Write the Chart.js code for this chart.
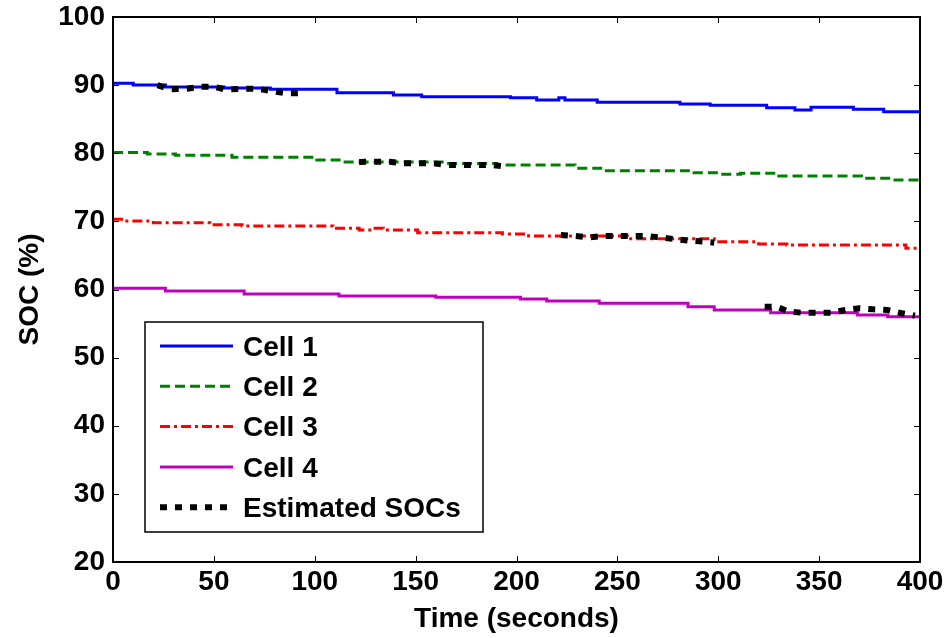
<!DOCTYPE html>
<html>
<head>
<meta charset="utf-8">
<script src="https://cdn.jsdelivr.net/npm/chart.js@4.4.0/dist/chart.umd.min.js"></script>
<style>
  body { margin: 0; background: #fff; }
</style>
</head>
<body>
<canvas id="soc-chart" width="949" height="638"></canvas>
<script>
// step points: time (s) where the SOC changes, and the new value (%)
const cell1T = [0, 10, 26, 55, 78, 111, 139, 153, 197, 210, 221, 224, 240, 281, 296, 324, 338, 346, 367, 382, 400];
const cell1V = [90.27, 90.02, 89.72, 89.58, 89.39, 88.89, 88.55, 88.30, 88.15, 87.83, 88.16, 87.83, 87.48, 87.23, 87.04, 86.69, 86.35, 86.75, 86.45, 86.10, 86.10];

const cell2T = [0, 17, 31, 59, 101, 114, 165, 190, 229, 243, 288, 301, 311, 330, 371, 386, 400];
const cell2V = [80.10, 79.89, 79.70, 79.41, 79.01, 78.72, 78.50, 78.28, 77.79, 77.44, 77.14, 76.91, 77.06, 76.66, 76.32, 76.07, 76.07];

const cell3T = [0, 6, 20, 48, 64, 109, 122, 129, 134, 151, 193, 206, 255, 298, 320, 334, 393, 400];
const cell3V = [70.30, 70.06, 69.81, 69.51, 69.32, 68.98, 68.73, 68.98, 68.73, 68.34, 68.15, 67.85, 67.45, 67.02, 66.68, 66.53, 66.05, 66.05];

const cell4T = [0, 26, 65, 112, 160, 202, 215, 241, 285, 298, 326, 369, 384, 400];
const cell4V = [60.20, 59.78, 59.34, 59.05, 58.85, 58.60, 58.30, 58.00, 57.48, 56.99, 56.60, 56.26, 56.00, 56.00];

// estimated SOC windows
const est1T = [22, 28, 36, 43, 50, 56, 65, 72, 79, 86, 94];
const est1V = [90.0, 89.4, 89.45, 89.75, 89.75, 89.35, 89.45, 89.45, 89.1, 88.8, 88.8];
const est2T = [122, 130, 137, 144, 151, 159, 165, 173, 180, 188, 195];
const est2V = [78.72, 78.76, 78.76, 78.52, 78.52, 78.52, 78.28, 78.28, 78.28, 78.28, 78.03];
const est3T = [222, 229, 236, 243, 250, 256, 264, 271, 279, 286, 293, 298];
const est3V = [68.0, 67.85, 67.66, 67.85, 67.85, 67.85, 67.85, 67.66, 67.37, 67.16, 67.02, 66.87];
const est4T = [323, 329, 335, 341, 348, 356, 363, 370, 377, 384, 391, 397.5];
const est4V = [57.48, 57.48, 56.74, 56.60, 56.60, 56.60, 56.99, 57.24, 57.09, 56.99, 56.51, 56.16];

const cellNames = ['Cell 1', 'Cell 2', 'Cell 3', 'Cell 4'];
const estName = 'Estimated SOCs';
const xTicks = [0, 50, 100, 150, 200, 250, 300, 350, 400];
const yTicks = [20, 30, 40, 50, 60, 70, 80, 90, 100];

const FAMILY = '"Liberation Sans", Arial, sans-serif';
const FSIZE = 28;

function pts(t, v) {
  return t.map((x, i) => ({ x: x, y: v[i] }));
}

const cellStyles = [
  { borderColor: '#0000ff', borderDash: [] },
  { borderColor: '#008000', borderDash: [10, 5] },
  { borderColor: '#ff0000', borderDash: [10, 4, 3, 4] },
  { borderColor: '#bf00bf', borderDash: [] }
];
const estStyle = { borderColor: '#000000', borderDash: [7, 8], borderWidth: 6 };

const cellData = [pts(cell1T, cell1V), pts(cell2T, cell2V), pts(cell3T, cell3V), pts(cell4T, cell4V)];
const estData = [pts(est1T, est1V), pts(est2T, est2V), pts(est3T, est3V), pts(est4T, est4V)];

let datasets = [];
cellData.forEach((d, i) => {
  datasets.push({
    label: cellNames[i],
    data: d,
    borderColor: cellStyles[i].borderColor,
    borderDash: cellStyles[i].borderDash,
    borderWidth: 3,
    stepped: true,
    pointRadius: 0,
    fill: false,
    order: 1
  });
});
estData.forEach(d => {
  datasets.push({
    label: estName,
    data: d,
    borderColor: estStyle.borderColor,
    borderDash: estStyle.borderDash,
    borderWidth: estStyle.borderWidth,
    borderCapStyle: 'butt',
    pointRadius: 0,
    fill: false,
    order: 0
  });
});

// frame, inward ticks and the boxed legend (matlab look)
const matlabFrame = {
  id: 'matlabFrame',
  afterDatasetsDraw(chart) {
    const { ctx, chartArea: a, scales } = chart;
    const x = scales.x, y = scales.y;
    ctx.save();
    ctx.strokeStyle = '#000';
    ctx.lineWidth = 1;
    ctx.beginPath();
    xTicks.forEach(v => {
      const px = Math.round(x.getPixelForValue(v)) + 0.5;
      ctx.moveTo(px, a.bottom); ctx.lineTo(px, a.bottom - 6);
      ctx.moveTo(px, a.top); ctx.lineTo(px, a.top + 6);
    });
    yTicks.forEach(v => {
      const py = Math.round(y.getPixelForValue(v)) + 0.5;
      ctx.moveTo(a.left, py); ctx.lineTo(a.left + 6, py);
      ctx.moveTo(a.right, py); ctx.lineTo(a.right - 6, py);
    });
    ctx.stroke();
    ctx.lineWidth = 2;
    ctx.strokeRect(a.left, a.top, a.right - a.left, a.bottom - a.top);

    // legend box
    const bx = 145, by = 322, bw = 338, bh = 210;
    ctx.fillStyle = '#fff';
    ctx.fillRect(bx, by, bw, bh);
    ctx.lineWidth = 1.5;
    ctx.strokeRect(bx, by, bw, bh);

    const entries = cellNames.map((n, i) => ({ name: n, color: cellStyles[i].borderColor, dash: cellStyles[i].borderDash, width: 3 }));
    entries.push({ name: estName, color: estStyle.borderColor, dash: estStyle.borderDash, width: estStyle.borderWidth });
    entries.forEach((e, i) => {
      const ry = 346 + i * 40.3;
      ctx.beginPath();
      ctx.strokeStyle = e.color;
      ctx.lineWidth = e.width;
      ctx.lineCap = 'butt';
      ctx.setLineDash(e.dash);
      ctx.moveTo(160, ry);
      ctx.lineTo(233, ry);
      ctx.stroke();
      ctx.setLineDash([]);
      ctx.fillStyle = '#000';
      ctx.font = 'bold ' + FSIZE + 'px ' + FAMILY;
      ctx.textAlign = 'left';
      ctx.textBaseline = 'middle';
      ctx.fillText(e.name, 243, ry + 2);
    });
    ctx.restore();
  }
};

const socChart = new Chart(document.getElementById('soc-chart').getContext('2d'), {
  type: 'line',
  data: { datasets: datasets },
  options: {
    responsive: false,
    animation: false,
    layout: { padding: { top: 17, right: 29, left: 0, bottom: 0 } },
    plugins: {
      legend: { display: false },
      tooltip: { enabled: false }
    },
    scales: {
      x: {
        type: 'linear',
        min: 0,
        max: 400,
        afterFit: s => { s.height = 76; s.paddingLeft = 0; s.paddingRight = 0; },
        afterBuildTicks: s => { s.ticks = xTicks.map(v => ({ value: v })); },
        grid: { display: false, drawTicks: false },
        border: { display: false },
        ticks: {
          autoSkip: false,
          maxRotation: 0,
          padding: 3,
          color: '#000',
          font: { family: FAMILY, size: FSIZE, weight: 'bold' }
        },
        title: {
          display: true,
          text: 'Time (seconds)',
          color: '#000',
          padding: { top: 0, bottom: 2 },
          font: { family: FAMILY, size: FSIZE, weight: 'bold' }
        }
      },
      y: {
        min: 20,
        max: 100,
        afterFit: s => { s.width = 113; s.paddingTop = 0; s.paddingBottom = 0; },
        afterBuildTicks: s => { s.ticks = yTicks.map(v => ({ value: v })); },
        grid: { display: false, drawTicks: false },
        border: { display: false },
        ticks: {
          autoSkip: false,
          padding: 8,
          color: '#000',
          font: { family: FAMILY, size: FSIZE, weight: 'bold' }
        },
        title: {
          display: true,
          text: 'SOC (%)',
          color: '#000',
          padding: { top: 13, bottom: 0 },
          font: { family: FAMILY, size: FSIZE, weight: 'bold' }
        }
      }
    }
  },
  plugins: [matlabFrame]
});
</script>
</body>
</html>
